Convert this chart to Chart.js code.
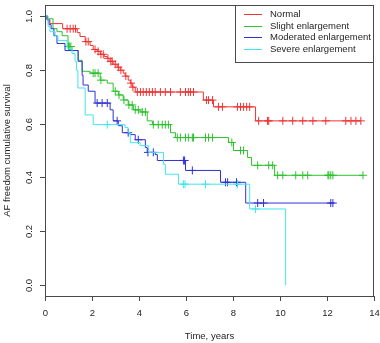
<!DOCTYPE html>
<html>
<head>
<meta charset="utf-8">
<script src="https://cdn.jsdelivr.net/npm/chart.js@4"></script>
<style>
  body { margin: 0; background: #fff; }
</style>
</head>
<body>
<canvas id="km" width="380" height="343"></canvas>
<script>
const xTicks = [0, 2, 4, 6, 8, 10, 12, 14];
const yTicks = [0.0, 0.2, 0.4, 0.6, 0.8, 1.0];
const yTickLabels = ['0.0', '0.2', '0.4', '0.6', '0.8', '1.0'];

const groupNames = ['Normal', 'Slight enlargement', 'Moderated enlargement', 'Severe enlargement'];

// step curves: time (years) and survival right after the step
const normalTime = [0, 0.09, 0.21, 0.75, 1.37, 1.49, 1.71, 1.92, 2.05, 2.22, 2.35, 2.52, 2.65, 2.77, 2.90, 3.07, 3.20, 3.33, 3.41, 3.54, 3.63, 3.71, 3.84, 6.74, 7.17, 8.96, 13.44];
const normalSurv = [1, 0.985, 0.971, 0.952, 0.9375, 0.923, 0.904, 0.890, 0.875, 0.868, 0.857, 0.849, 0.842, 0.831, 0.820, 0.809, 0.798, 0.787, 0.776, 0.761, 0.750, 0.735, 0.717, 0.687, 0.662, 0.610, 0.610];
const normalCens = [0.94, 1.07, 1.2, 1.3, 1.74, 1.84, 2.13, 2.26, 2.38, 2.48, 2.68, 2.8, 2.86, 2.99, 3.12, 3.23, 3.44, 3.66, 3.74, 3.93, 4.06, 4.18, 4.31, 4.44, 4.57, 4.69, 4.91, 5.12, 5.34, 5.76, 5.98, 6.10, 6.19, 6.32, 6.87, 6.96, 7.13, 7.38, 7.55, 8.19, 8.32, 8.45, 8.58, 8.71, 9.09, 9.47, 9.52, 10.12, 10.54, 10.97, 11.40, 11.95, 12.80, 13.02, 13.23, 13.44];

const slightTime = [0, 0.085, 0.34, 0.51, 0.73, 0.98, 1.15, 1.41, 1.58, 1.92, 2.35, 2.65, 2.90, 3.12, 3.33, 3.54, 3.76, 4.05, 4.35, 4.57, 5.34, 5.55, 7.81, 8.02, 8.62, 8.79, 9.77, 13.53];
const slightSurv = [1, 0.989, 0.952, 0.941, 0.926, 0.886, 0.871, 0.835, 0.794, 0.787, 0.761, 0.75, 0.72, 0.706, 0.6875, 0.669, 0.651, 0.643, 0.61, 0.596, 0.566, 0.548, 0.53, 0.50, 0.474, 0.445, 0.408, 0.408];
const slightCens = [1.0, 1.05, 1.1, 2.05, 2.13, 2.26, 2.38, 2.99, 3.15, 3.36, 3.57, 3.71, 3.84, 3.97, 4.14, 4.27, 4.61, 4.82, 4.99, 5.12, 5.25, 5.63, 5.76, 5.98, 6.10, 6.27, 6.32, 6.83, 6.96, 7.13, 7.95, 8.32, 8.45, 9.05, 9.52, 9.69, 9.90, 10.12, 10.67, 10.97, 11.18, 12.04, 12.08, 12.16, 12.25, 13.53];

const modTime = [0, 0.09, 0.17, 0.26, 0.38, 0.51, 0.85, 1.41, 1.58, 1.62, 1.84, 2.13, 2.77, 2.90, 3.12, 3.29, 3.63, 3.84, 4.27, 4.35, 4.69, 4.78, 5.98, 7.47, 8.54, 12.29];
const modSurv = [1, 0.985, 0.967, 0.952, 0.926, 0.897, 0.871, 0.831, 0.779, 0.743, 0.72, 0.676, 0.651, 0.61, 0.592, 0.566, 0.559, 0.54, 0.511, 0.493, 0.485, 0.463, 0.426, 0.382, 0.305, 0.305];
const modCens = [2.22, 2.43, 2.65, 3.07, 3.54, 3.97, 4.38, 4.61, 5.89, 5.94, 6.27, 7.68, 7.77, 8.15, 9.05, 9.30, 12.16, 12.25];

const sevTime = [0, 0.13, 0.21, 0.43, 0.55, 0.94, 1.15, 1.28, 1.34, 1.40, 1.71, 2.05, 3.41, 3.54, 3.63, 4.05, 4.40, 5.04, 5.12, 5.68, 8.71, 10.24];
const sevSurv = [1, 0.96, 0.941, 0.926, 0.908, 0.879, 0.86, 0.831, 0.798, 0.732, 0.632, 0.596, 0.585, 0.566, 0.529, 0.518, 0.493, 0.449, 0.412, 0.375, 0.283, 0];
const sevCens = [2.65, 5.89, 5.96, 6.83, 8.19, 8.96];

const colors = ['#f03434', '#2ec22e', '#3030d6', '#40e6ef'];

function survAt(times, surv, t) {
  let s = surv[0];
  for (let i = 0; i < times.length; i++) {
    if (times[i] <= t) s = surv[i];
  }
  return s;
}

function curve(times, surv, color, order) {
  return {
    type: 'line',
    data: times.map((t, i) => ({ x: t, y: surv[i] })),
    borderColor: color,
    borderWidth: 1,
    stepped: true,
    pointRadius: 0,
    fill: false,
    order
  };
}

function marks(times, surv, cens, color, order) {
  return {
    type: 'scatter',
    data: cens.map(t => ({ x: t, y: survAt(times, surv, t) })),
    borderColor: color,
    backgroundColor: color,
    pointStyle: 'cross',
    pointRadius: 4,
    borderWidth: 1,
    showLine: false,
    order
  };
}

const frame = {
  id: 'frame',
  afterDraw(chart) {
    const { ctx, chartArea: a, scales: { x, y } } = chart;
    ctx.save();
    ctx.strokeStyle = '#4a4a4a';
    ctx.lineWidth = 1;
    ctx.strokeRect(a.left + 0.5, a.top + 0.5, a.right - a.left - 1, a.bottom - a.top);

    ctx.fillStyle = '#1e1e1e';
    ctx.font = '9.5px "Liberation Sans", Arial, sans-serif';
    ctx.textAlign = 'center';
    ctx.textBaseline = 'middle';

    // x ticks
    xTicks.forEach(v => {
      const px = Math.round(x.getPixelForValue(v)) + 0.5;
      ctx.beginPath();
      ctx.moveTo(px, a.bottom);
      ctx.lineTo(px, a.bottom + 5);
      ctx.stroke();
      ctx.fillText(String(v), px, 313);
    });

    // y ticks, labels rotated like R
    yTicks.forEach((v, i) => {
      const py = Math.round(y.getPixelForValue(v)) + 0.5;
      ctx.beginPath();
      ctx.moveTo(a.left, py);
      ctx.lineTo(a.left - 5, py);
      ctx.stroke();
      ctx.save();
      ctx.translate(29, py);
      ctx.rotate(-Math.PI / 2);
      ctx.fillText(yTickLabels[i], 0, 0);
      ctx.restore();
    });

    ctx.fillText('Time, years', (a.left + a.right) / 2, 336);
    ctx.save();
    ctx.translate(7, (a.top + a.bottom) / 2);
    ctx.rotate(-Math.PI / 2);
    ctx.fillText('AF freedom cumulative survival', 0, 0);
    ctx.restore();

    // legend box
    const lx = 235, ly = a.top;
    ctx.fillStyle = '#fff';
    ctx.fillRect(lx + 0.5, ly + 0.5, a.right - lx - 1, 57);
    ctx.strokeRect(lx + 0.5, ly + 0.5, a.right - lx - 1, 57);
    ctx.textAlign = 'left';
    groupNames.forEach((name, i) => {
      const ey = Math.round(14 + i * 11.6) + 0.5;
      ctx.strokeStyle = colors[i];
      ctx.beginPath();
      ctx.moveTo(244, ey);
      ctx.lineTo(262, ey);
      ctx.stroke();
      ctx.fillStyle = '#1e1e1e';
      ctx.fillText(name, 270, ey);
    });
    ctx.restore();
  }
};

new Chart(document.getElementById('km'), {
  data: {
    datasets: [
      curve(sevTime, sevSurv, colors[3], 0),
      marks(sevTime, sevSurv, sevCens, colors[3], 0),
      curve(modTime, modSurv, colors[2], 1),
      marks(modTime, modSurv, modCens, colors[2], 1),
      curve(slightTime, slightSurv, colors[1], 2),
      marks(slightTime, slightSurv, slightCens, colors[1], 2),
      curve(normalTime, normalSurv, colors[0], 3),
      marks(normalTime, normalSurv, normalCens, colors[0], 3)
    ]
  },
  options: {
    responsive: false,
    animation: false,
    layout: { padding: { left: 45, right: 6, top: 2, bottom: 47 } },
    plugins: { legend: { display: false }, tooltip: { enabled: false } },
    scales: {
      x: { type: 'linear', min: 0, max: 14, display: false },
      y: { type: 'linear', min: -0.04, max: 1.04, display: false }
    }
  },
  plugins: [frame]
});
</script>
</body>
</html>
